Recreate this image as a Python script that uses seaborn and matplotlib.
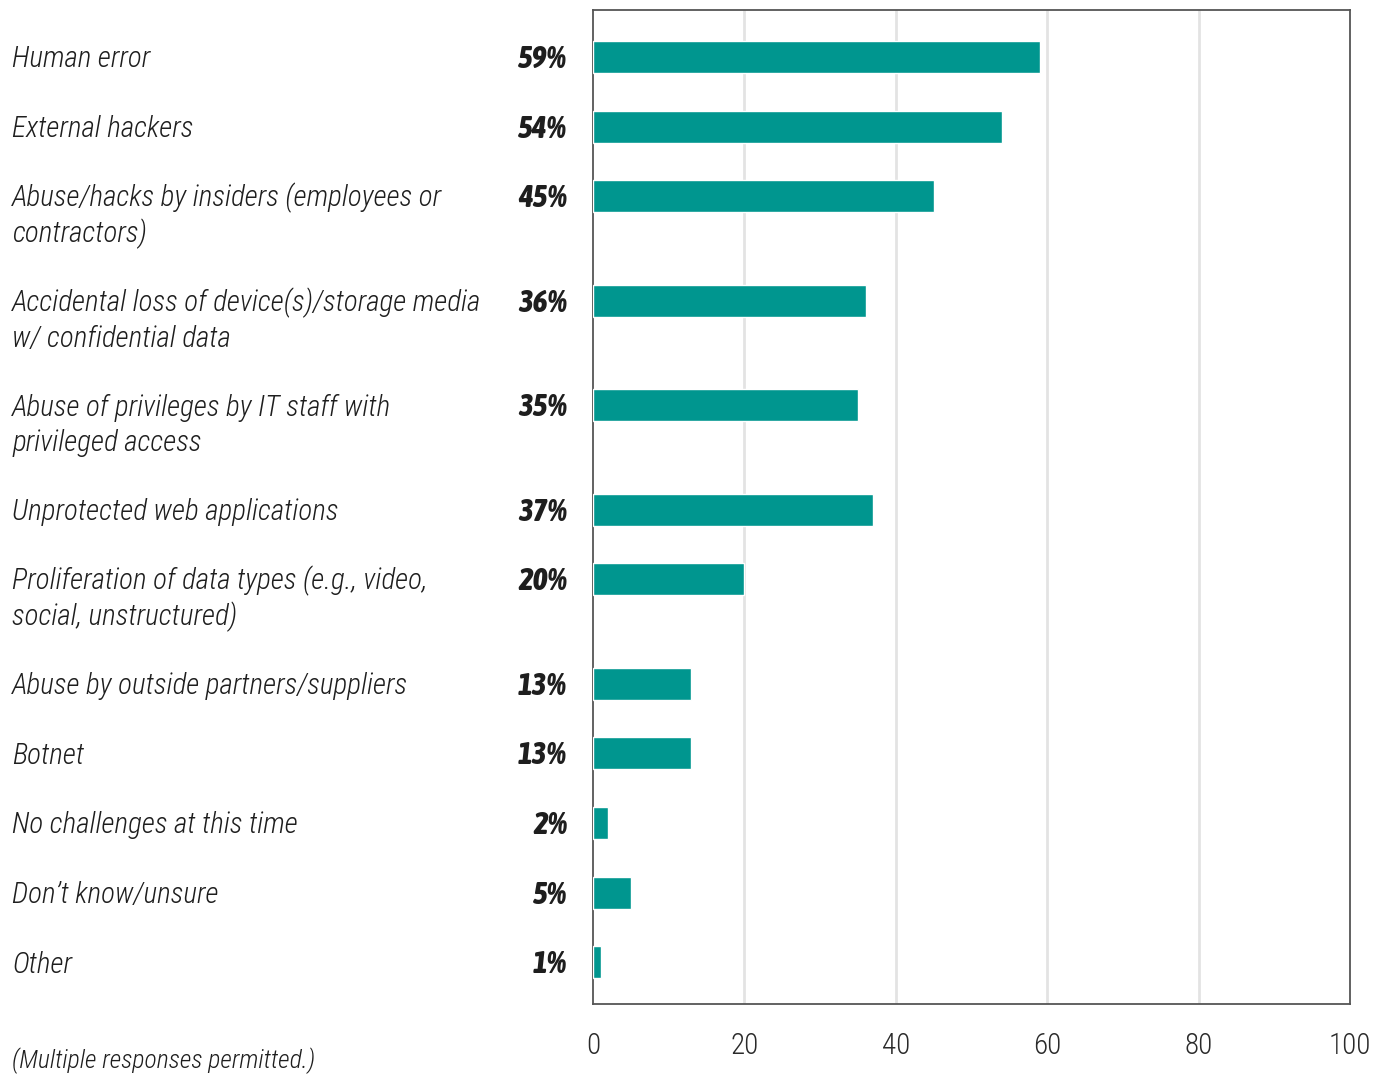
import numpy as np
import pandas as pd
import matplotlib
matplotlib.use("Agg")
import matplotlib.pyplot as plt
from matplotlib import font_manager
from matplotlib.font_manager import FontProperties
import matplotlib.transforms as mtransforms
import seaborn as sns

categories = [
    "Human error",
    "External hackers",
    "Abuse/hacks by insiders (employees or\ncontractors)",
    "Accidental loss of device(s)/storage media\nw/ confidential data",
    "Abuse of privileges by IT staff with\nprivileged access",
    "Unprotected web applications",
    "Proliferation of data types (e.g., video,\nsocial, unstructured)",
    "Abuse by outside partners/suppliers",
    "Botnet",
    "No challenges at this time",
    "Don’t know/unsure",
    "Other",
]
values = [59, 54, 45, 36, 35, 37, 20, 13, 13, 2, 5, 1]
xticks = [0, 20, 40, 60, 80, 100]
footnote = "(Multiple responses permitted.)"

sns.set_theme(style="white")


def _weight(f):
    if isinstance(f.weight, int):
        return f.weight
    w = str(f.weight).lower()
    table = {"thin": 100, "extralight": 200, "light": 300, "normal": 400,
             "regular": 400, "medium": 500, "semibold": 600, "bold": 700,
             "extrabold": 800, "black": 900, "heavy": 900}
    return table.get(w, 400)


def find_narrow(italic, target_weight):
    """Pick the condensed face closest to the wanted weight and slant."""
    best = None
    for f in font_manager.fontManager.ttflist:
        key = (f.name + " " + f.fname).lower()
        narrow = ("narrow" in key or "condensed" in key
                  or str(f.stretch).lower() in ("condensed", "semi-condensed", "extra-condensed"))
        if not narrow:
            continue
        is_it = f.style in ("italic", "oblique")
        if is_it != italic:
            continue
        score = abs(_weight(f) - target_weight) + (0 if "roboto" in key else 50)
        if best is None or score < best[0]:
            best = (score, f.fname)
    return best[1] if best else None


light_it = find_narrow(True, 300)
bold_it = find_narrow(True, 800)
light = find_narrow(False, 300)
narrow_ok = light_it is not None

plt.rcParams["font.family"] = ["Roboto", "DejaVu Sans"]


def fp(path, size, **kw):
    if path:
        return FontProperties(fname=path, size=size)
    return FontProperties(family=["Roboto", "DejaVu Sans"], size=size, **kw)


lab_fp = fp(light_it, 21 if narrow_ok else 18, style="italic")
pct_fp = fp(bold_it, 22.5 if narrow_ok else 19, style="italic", weight="bold")
tick_fp = fp(light, 21 if narrow_ok else 19)
note_fp = fp(light_it, 18.5 if narrow_ok else 15, style="italic")

# rows with a two-line label take extra vertical room
pos = []
y = 0.0
for lab in categories:
    pos.append(y)
    y += 1.5 if "\n" in lab else 1.0

df = pd.DataFrame({"label": categories, "value": values, "pos": pos})

fig = plt.figure(figsize=(13.84, 10.74), dpi=100)
ax = fig.add_axes([593 / 1384, 1 - 1004 / 1074, (1350 - 593) / 1384, (1004 - 10) / 1074])

sns.barplot(data=df, x="value", y="pos", orient="h", native_scale=True,
            color="#00968F", saturation=1, width=0.46, ax=ax, zorder=3)

ax.set_xlim(0, 100)
ax.set_ylim(pos[-1] + 0.6, -0.675)
ax.set_xticks(xticks)
ax.set_xticklabels([str(t) for t in xticks])
for t in ax.get_xticklabels():
    t.set_fontproperties(tick_fp)
    t.set_color("#2a2a2a")
ax.tick_params(axis="x", length=0, pad=20)
ax.set_yticks([])
ax.set_xlabel("")
ax.set_ylabel("")
for t in xticks[1:-1]:
    ax.axvline(t, color="#e3e3e3", lw=2, zorder=1)
for s in ax.spines.values():
    s.set_visible(True)
    s.set_color("#555555")
    s.set_linewidth(1.3)

trans = mtransforms.blended_transform_factory(ax.transAxes, ax.transData)
label_x = (12 - 593) / 757
pct_x = (567 - 593) / 757
base_off = 0.15    # baseline sits a little below the bar centre
line_step = 0.515  # spacing between wrapped label lines

for lab, v, p in zip(categories, values, pos):
    for i, line in enumerate(lab.split("\n")):
        ax.text(label_x, p + base_off + i * line_step, line, transform=trans,
                ha="left", va="baseline", fontproperties=lab_fp, color="#1e1e1e")
    ax.text(pct_x, p + base_off + 0.01, f"{v}%", transform=trans, ha="right",
            va="baseline", fontproperties=pct_fp, color="#1e1e1e")

fig.text(12 / 1384, 1 - 1068 / 1074, footnote, ha="left", va="baseline",
         fontproperties=note_fp, color="#1e1e1e")

fig.savefig("out.png", dpi=100)
